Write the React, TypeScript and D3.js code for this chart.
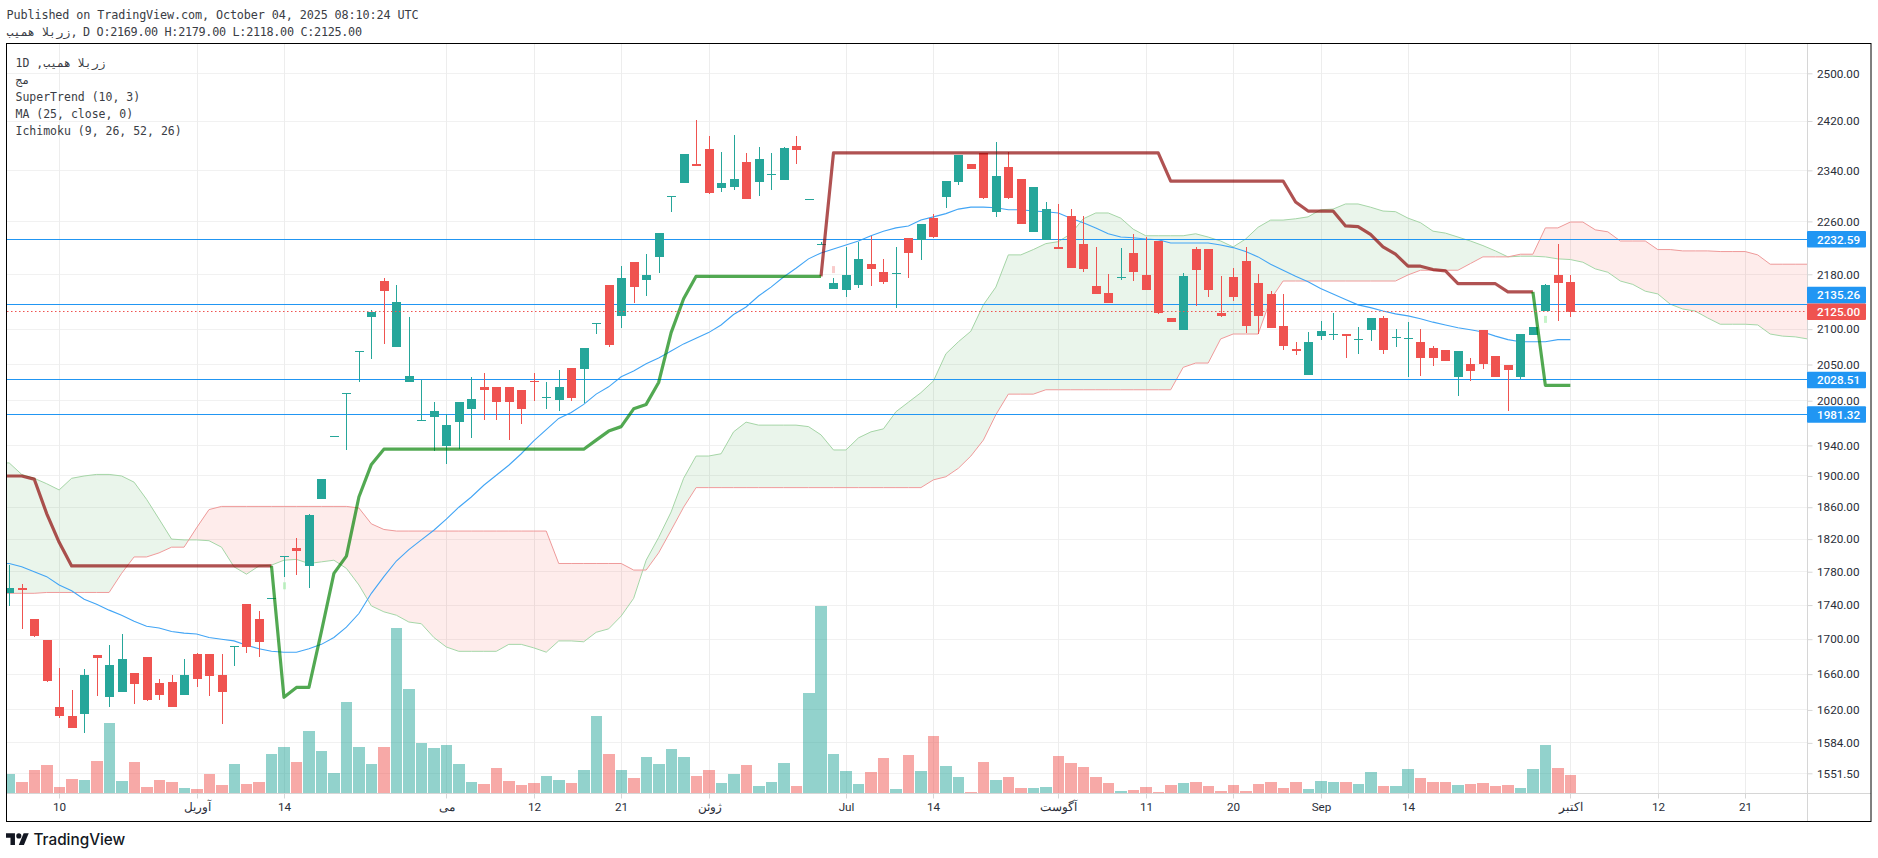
import * as d3 from "d3";
import { useEffect, useRef } from "react";

const opens = [1754,1760,1723,1699,1623,1613,1616,1682,1634,1640,1661,1679,1650,1651,1637,1683,1683,1659,1692,1741,1723,1748,1799,1809,1787,1870,1952,2010,2069,2117,2170,2075,2026,1974,1978,1939,1971,1989,2019,2019,2019,2015,2027,2005,2001,2045,2044,2109,2164,2119,2198,2172,2206,2300,2320,2350,2374,2312,2314,2353,2322,2334,2325,2379,2294,2226,2158,2157,2164,2195,2183,2182,2234,2232,2265,2298,2322,2350,2368,2274,2345,2326,2243,2232,2221,2269,2226,2163,2153,2176,2212,2179,2230,2116,2099,2218,2218,2123,2176,2200,2167,2151,2104,2072,2035,2090,2093,2093,2086,2099,2116,2089,2087,2081,2073,2070,2033,2051,2099,2062,2049,2033,2092,2126,2179,2169];
const highs = [1788,1765,1723,1699,1667,1642,1666,1682,1693,1706,1661,1679,1654,1659,1677,1684,1683,1683,1692,1741,1733,1748,1799,1821,1852,1896,1952,2010,2069,2127,2174,2164,2117,2028,1998,1982,1998,2032,2038,2019,2019,2015,2038,2025,2042,2045,2073,2109,2164,2193,2198,2211,2242,2300,2366,2422,2395,2370,2397,2368,2378,2368,2378,2395,2294,2228,2174,2221,2228,2238,2203,2221,2234,2256,2271,2323,2364,2350,2368,2386,2370,2326,2314,2290,2287,2279,2269,2221,2180,2219,2240,2236,2230,2116,2182,2221,2218,2177,2190,2221,2180,2155,2151,2081,2096,2112,2123,2093,2103,2116,2119,2100,2110,2100,2076,2070,2069,2059,2099,2062,2049,2093,2103,2166,2226,2179];
const lows = [1739,1712,1703,1651,1611,1600,1595,1635,1623,1640,1626,1630,1631,1623,1637,1645,1635,1605,1669,1684,1679,1748,1774,1776,1760,1870,1952,1934,2026,2057,2079,2075,2026,1974,1932,1915,1935,1950,1974,1974,1947,1969,2000,1989,1986,2000,1997,2093,2075,2102,2138,2148,2182,2275,2320,2347,2302,2306,2309,2295,2300,2309,2325,2350,2294,2226,2158,2147,2160,2163,2166,2130,2174,2202,2234,2281,2317,2342,2295,2267,2295,2256,2243,2232,2218,2190,2183,2151,2138,2172,2170,2157,2122,2110,2099,2133,2147,2117,2140,2095,2093,2102,2070,2063,2035,2085,2085,2059,2065,2083,2065,2075,2033,2034,2048,2055,2006,2027,2044,2033,1986,2030,2092,2126,2112,2118];
const closes = [1760,1758,1704,1652,1613,1600,1659,1678,1670,1677,1649,1631,1636,1623,1659,1655,1658,1640,1692,1691,1697,1748,1799,1805,1850,1896,1952,2010,2069,2124,2155,2139,2034,1974,1986,1967,1998,2002,2015,1998,1998,1989,2026,2005,2019,2004,2073,2109,2078,2174,2161,2179,2242,2300,2366,2347,2304,2320,2326,2295,2358,2334,2376,2373,2294,2226,2167,2179,2203,2188,2169,2182,2212,2256,2236,2323,2364,2342,2296,2331,2296,2256,2314,2279,2218,2190,2188,2151,2138,2176,2183,2157,2123,2110,2177,2186,2157,2119,2147,2104,2119,2102,2076,2069,2081,2097,2093,2090,2086,2116,2070,2089,2087,2059,2059,2055,2069,2041,2051,2033,2042,2093,2103,2164,2167,2125];
const volumes = [19,11,23,28,6,14,13,32,70,12,31,6,13,11,5,4,19,8,29,9,11,39,46,31,62,42,20,91,46,29,46,165,104,50,45,48,29,11,9,25,12,8,10,17,13,10,23,77,39,23,15,36,29,44,36,17,23,10,19,28,7,11,30,7,100,187,39,22,9,21,35,4,38,22,57,27,16,1,31,13,16,5,5,6,37,30,26,16,10,2,3,6,1,8,10,11,7,2,8,2,9,11,5,11,4,12,11,11,9,21,7,7,24,15,11,11,8,9,10,7,8,5,24,48,25,18];

const ma25 = [1790,1786,1780,1774,1764,1757,1747,1741,1734,1728,1721,1715,1713,1709,1707,1706,1702,1700,1698,1693,1689,1686,1685,1685,1689,1694,1702,1714,1730,1754,1774,1793,1807,1819,1831,1845,1860,1873,1888,1901,1914,1929,1946,1961,1976,1984,1995,2009,2019,2033,2041,2051,2059,2069,2079,2087,2095,2106,2121,2132,2148,2161,2176,2189,2203,2212,2218,2224,2230,2238,2245,2250,2253,2262,2267,2272,2279,2282,2282,2281,2278,2278,2276,2275,2273,2265,2258,2250,2241,2236,2235,2233,2232,2227,2227,2227,2227,2224,2220,2214,2206,2195,2186,2177,2169,2159,2151,2143,2135,2131,2126,2122,2119,2115,2110,2106,2102,2099,2096,2090,2085,2082,2082,2082,2085,2085];

const spanA = [1917,1902,1897,1890,1882,1897,1900,1902,1902,1900,1892,1870,1845,1820,1819,1819,1818,1810,1786,1777,1787,1788,1794,1795,1790,1792,1794,1784,1764,1739,1732,1728,1720,1718,1702,1691,1686,1686,1686,1686,1694,1694,1690,1685,1698,1698,1697,1708,1712,1727,1748,1794,1822,1854,1897,1926,1926,1929,1958,1971,1967,1967,1967,1967,1965,1954,1934,1934,1950,1958,1962,1985,1998,2011,2027,2065,2082,2097,2135,2161,2209,2209,2217,2226,2229,2241,2264,2273,2273,2265,2248,2238,2238,2238,2238,2241,2236,2230,2221,2233,2251,2262,2262,2264,2267,2278,2279,2287,2287,2282,2276,2275,2265,2258,2245,2242,2236,2230,2223,2215,2206,2207,2207,2206,2203,2202,2198,2188,2183,2170,2165,2155,2151,2136,2129,2126,2116,2107,2107,2107,2106,2093,2090,2089,2086];
const spanB = [1754,1754,1754,1755,1755,1755,1755,1755,1755,1778,1798,1798,1803,1810,1810,1834,1857,1861,1861,1861,1861,1861,1861,1861,1861,1861,1861,1861,1859,1839,1832,1830,1830,1830,1830,1830,1830,1830,1830,1830,1830,1830,1830,1830,1790,1790,1790,1790,1790,1790,1782,1782,1803,1831,1860,1885,1885,1885,1885,1885,1885,1885,1885,1885,1885,1885,1885,1885,1885,1885,1885,1885,1885,1885,1895,1899,1910,1926,1947,1981,2009,2009,2009,2015,2015,2015,2015,2015,2015,2015,2015,2015,2015,2015,2046,2052,2052,2086,2093,2093,2093,2143,2170,2170,2170,2170,2170,2170,2170,2170,2170,2170,2179,2186,2186,2186,2186,2196,2206,2206,2206,2210,2210,2250,2250,2259,2259,2247,2244,2230,2230,2230,2217,2217,2215,2215,2215,2214,2214,2214,2209,2195,2195,2195,2195];

// supertrend, one list per direction, they meet on the flip bars
const trendDown = [1900,1900,1896,1852,1816,1787,1787,1787,1787,1787,1787,1787,1787,1787,1787,1787,1787,1787,1787,1787,1787,1787,null,null,null,null,null,null,null,null,null,null,null,null,null,null,null,null,null,null,null,null,null,null,null,null,null,null,null,null,null,null,null,null,null,null,null,null,null,null,null,null,null,null,null,2177,2368,2368,2368,2368,2368,2368,2368,2368,2368,2368,2368,2368,2368,2368,2368,2368,2368,2368,2368,2368,2368,2368,2368,2368,2368,2368,2368,2323,2323,2323,2323,2323,2323,2323,2323,2323,2323,2290,2276,2276,2276,2253,2252,2240,2221,2210,2192,2192,2187,2185,2166,2166,2166,2166,2154,2154,2154,null,null,null];
const trendUp = [null,null,null,null,null,null,null,null,null,null,null,null,null,null,null,null,null,null,null,null,null,1787,1634,1645,1645,1709,1778,1799,1873,1915,1935,1935,1935,1935,1935,1935,1935,1935,1935,1935,1935,1935,1935,1935,1935,1935,1935,1947,1959,1965,1989,1995,2025,2095,2144,2177,2177,2177,2177,2177,2177,2177,2177,2177,2177,2177,null,null,null,null,null,null,null,null,null,null,null,null,null,null,null,null,null,null,null,null,null,null,null,null,null,null,null,null,null,null,null,null,null,null,null,null,null,null,null,null,null,null,null,null,null,null,null,null,null,null,null,null,null,null,null,null,2154,2021,2021,2021];

const signalBars = [22, 66, 123];
const signalPrices = [1763, 2187, 2114];
const signalColors = ["#7ee787", "#f28b8b", "#7ee787"];

const priceTicks = [2500,2420,2340,2260,2180,2100,2050,2000,1940,1900,1860,1820,1780,1740,1700,1660,1620,1584,1551.5];
const timeTicks = [4,15,22,35,42,49,56,67,74,84,91,98,105,112,125,132,139];
const timeLabels = ["10","آوریل","14","می","12","21","ژوئن","Jul","14","آگوست","11","20","Sep","14","اکتبر","12","21"];
const levels = [2232.59, 2135.26, 2028.51, 1981.32];
const lastClose = 2125;

const legendLines = ["1D ,زربلا همیب", "مج", "SuperTrend (10, 3)", "MA (25, close, 0)", "Ichimoku (9, 26, 52, 26)"];

const GREEN = "#26a69a";
const RED = "#ef5350";
const BLUE = "#2196f3";
const MONO = "'DejaVu Sans Mono', monospace";
const AXIS_FONT = "Roboto, sans-serif";

export default function App() {
  const svgRef = useRef<SVGSVGElement>(null);

  useEffect(() => {
    if (!svgRef.current) return;
    const svg = d3.select(svgRef.current);
    svg.selectAll("*").remove();

    const left = 7;
    const right = 1807;
    const top = 44;
    const bottom = 793;

    const x = d3.scaleLinear().domain([0, 139]).range([9.2, 1745.2]);
    const y = d3.scaleLog().domain([1551.5, 2500]).range([773.3, 73.3]);
    const vol = d3.scaleLinear().domain([0, 187]).range([793, 606]);
    // bars sit on whole pixels like the original canvas
    const cx = (i: number) => Math.round(x(i) - 4) + 4;
    // the lines run on past the first bar to the pane edge
    const lead = (s: (number | null)[]) => [s[0], ...s];

    const defs = svg.append("defs");
    defs.append("clipPath").attr("id", "pane").append("rect")
      .attr("x", left).attr("y", top).attr("width", right - left).attr("height", bottom - top);

    const idx = d3.range(-1, spanA.length);
    const at = (s: number[], i: number) => s[Math.max(i, 0)];
    const above = (s: number[]) => d3.area<number>().x((i) => x(i)).y0((i) => y(at(s, i))).y1(0);
    defs.append("clipPath").attr("id", "aboveB").append("path").attr("d", above(spanB)(idx));
    defs.append("clipPath").attr("id", "aboveA").append("path").attr("d", above(spanA)(idx));

    // titles above the pane
    svg.append("text").attr("x", 6.5).attr("y", 18.5)
      .attr("font-family", MONO).attr("font-size", 11.8).attr("fill", "#3a3d45")
      .attr("textLength", 412)
      .text("Published on TradingView.com, October 04, 2025 08:10:24 UTC");
    svg.append("text").attr("x", 6.5).attr("y", 35.5)
      .attr("font-family", MONO).attr("font-size", 11.8).attr("fill", "#3a3d45")
      .text("زربلا همیب,");
    svg.append("text").attr("x", 83).attr("y", 35.5)
      .attr("font-family", MONO).attr("font-size", 11.8).attr("fill", "#3a3d45")
      .attr("textLength", 279)
      .text("D O:2169.00 H:2179.00 L:2118.00 C:2125.00");

    // grid
    const grid = svg.append("g");
    grid.selectAll(".h").data(priceTicks).join("line")
      .attr("x1", left).attr("x2", right)
      .attr("y1", (d) => Math.floor(y(d)) + 0.5).attr("y2", (d) => Math.floor(y(d)) + 0.5)
      .attr("stroke", "#f1f1f1");
    grid.selectAll(".v").data(timeTicks).join("line")
      .attr("x1", (d) => cx(d) + 0.5).attr("x2", (d) => cx(d) + 0.5)
      .attr("y1", top).attr("y2", bottom)
      .attr("stroke", "#ededed");

    const pane = svg.append("g").attr("clip-path", "url(#pane)");

    // volume
    pane.append("g").selectAll("rect").data(volumes).join("rect")
      .attr("x", (_, i) => Math.round(x(i) - 5.5))
      .attr("width", (_, i) => Math.round(x(i) + 6) - Math.round(x(i) - 5.5))
      .attr("y", (d) => vol(d))
      .attr("height", (d) => bottom - vol(d))
      .attr("fill", (_, i) => (closes[i] >= opens[i] ? GREEN : RED))
      .attr("fill-opacity", 0.5);

    // cloud
    const cloud = d3.area<number>().x((i) => x(i)).y0((i) => y(at(spanA, i))).y1((i) => y(at(spanB, i)));
    const cloudPath = cloud(idx);
    pane.append("g").attr("clip-path", "url(#aboveB)").append("path")
      .attr("d", cloudPath).attr("fill", "rgba(67,160,71,0.11)");
    pane.append("g").attr("clip-path", "url(#aboveA)").append("path")
      .attr("d", cloudPath).attr("fill", "rgba(244,67,54,0.1)");
    const seriesLine = d3.line<number | null>()
      .defined((d) => d !== null)
      .x((_, i) => x(i - 1))
      .y((d) => y(d as number));
    pane.append("path").attr("d", seriesLine(lead(spanA))).attr("fill", "none").attr("stroke", "#a5d6a7");
    pane.append("path").attr("d", seriesLine(lead(spanB))).attr("fill", "none").attr("stroke", "#ef9a9a");

    // moving average
    pane.append("path").attr("d", seriesLine(lead(ma25))).attr("fill", "none")
      .attr("stroke", "#42a5f5").attr("stroke-width", 1.1);

    // horizontal levels
    pane.selectAll(".level").data(levels).join("line")
      .attr("x1", left).attr("x2", right)
      .attr("y1", (d) => Math.floor(y(d)) + 0.5).attr("y2", (d) => Math.floor(y(d)) + 0.5)
      .attr("stroke", BLUE);

    // candles
    const candles = pane.append("g");
    opens.forEach((o, i) => {
      const c = closes[i];
      const color = c >= o ? GREEN : RED;
      const bodyTop = Math.round(y(Math.max(o, c)));
      const bodyBottom = Math.max(bodyTop + 1, Math.round(y(Math.min(o, c))));
      const wickTop = Math.round(y(highs[i]));
      const wickBottom = Math.max(wickTop + 1, Math.round(y(lows[i])));
      candles.append("rect").attr("x", cx(i)).attr("width", 1)
        .attr("y", wickTop).attr("height", wickBottom - wickTop).attr("fill", color);
      candles.append("rect").attr("x", cx(i) - 4).attr("width", 9)
        .attr("y", bodyTop).attr("height", bodyBottom - bodyTop).attr("fill", color);
    });

    // supertrend
    pane.append("path").attr("d", seriesLine(lead(trendDown))).attr("fill", "none")
      .attr("stroke", "#8b0000").attr("stroke-opacity", 0.68).attr("stroke-width", 3.2).attr("stroke-linejoin", "round");
    pane.append("path").attr("d", seriesLine(lead(trendUp))).attr("fill", "none")
      .attr("stroke", "#008000").attr("stroke-opacity", 0.68).attr("stroke-width", 3.2).attr("stroke-linejoin", "round");

    // flip markers
    signalBars.forEach((b, i) => {
      pane.append("rect").attr("x", cx(b) - 1).attr("width", 3)
        .attr("y", y(signalPrices[i]) - 3.5).attr("height", 7)
        .attr("fill", signalColors[i]).attr("fill-opacity", 0.45);
    });

    // last price
    pane.append("line").attr("x1", left).attr("x2", right)
      .attr("y1", Math.floor(y(lastClose)) + 0.5).attr("y2", Math.floor(y(lastClose)) + 0.5)
      .attr("stroke", RED).attr("stroke-dasharray", "1.5 2.5");

    // axes
    const priceAxis = svg.append("g").attr("transform", `translate(${right + 0.5},0)`)
      .call(d3.axisRight(y).tickValues(priceTicks).tickFormat((d) => (d as number).toFixed(2)).tickSize(5).tickPadding(4.5));
    priceAxis.select(".domain").remove();
    priceAxis.selectAll("line").attr("stroke", "#d6d6d6");
    priceAxis.selectAll("text").attr("font-family", AXIS_FONT).attr("font-size", 11.7).attr("fill", "#2a2e39");

    const timeAxis = svg.append("g").attr("transform", `translate(0,${bottom + 0.5})`)
      .call(d3.axisBottom(x).tickValues(timeTicks).tickFormat((_, i) => timeLabels[i]).tickSize(5).tickPadding(4.5));
    timeAxis.select(".domain").remove();
    timeAxis.selectAll<SVGGElement, number>(".tick").attr("transform", (d) => `translate(${cx(d) + 0.5},0)`);
    timeAxis.selectAll("line").attr("stroke", "#d6d6d6");
    timeAxis.selectAll("text").attr("font-family", AXIS_FONT).attr("font-size", 11.7).attr("fill", "#2a2e39");

    svg.append("line").attr("x1", left).attr("x2", 1871).attr("y1", bottom + 0.5).attr("y2", bottom + 0.5).attr("stroke", "#d6d6d6");
    svg.append("line").attr("x1", right + 0.5).attr("x2", right + 0.5).attr("y1", top).attr("y2", 822).attr("stroke", "#d6d6d6");

    // price labels, pushed up when they would hit the last price tag
    const labelH = 16.6;
    const tags = levels.map((p) => {
      let center = y(p);
      const lastY = y(lastClose);
      if (Math.abs(center - lastY) < labelH) center = lastY - labelH;
      return { p, center, color: BLUE };
    });
    tags.push({ p: lastClose, center: y(lastClose), color: RED });
    const tagG = svg.append("g").selectAll("g").data(tags).join("g")
      .attr("transform", (d) => `translate(${right},${d.center})`);
    tagG.append("rect").attr("x", 0).attr("y", -labelH / 2).attr("width", 59).attr("height", labelH)
      .attr("rx", 1).attr("fill", (d) => d.color);
    tagG.append("text").attr("x", 10).attr("dy", "0.36em")
      .attr("font-family", AXIS_FONT).attr("font-size", 11.7).attr("font-weight", 500).attr("fill", "#fff")
      .text((d) => d.p.toFixed(2));

    // legend
    svg.append("g").selectAll("text").data(legendLines).join("text")
      .attr("x", 15.5).attr("y", (_, i) => 66.5 + i * 17)
      .attr("font-family", MONO).attr("font-size", 11.5).attr("fill", "#3a3d45")
      .text((d) => d);

    // pane border
    svg.append("rect").attr("x", 6.5).attr("y", 43.5).attr("width", 1864.5).attr("height", 778)
      .attr("fill", "none").attr("stroke", "#000");

    // logo
    const logo = svg.append("g").attr("transform", "translate(6,830.8) scale(0.64)").attr("fill", "#131722");
    logo.append("path").attr("d", "M14 22H7V11H0V4h14v18z");
    logo.append("path").attr("d", "M28 22h-8l7.5-18h8L28 22z");
    logo.append("circle").attr("cx", 20).attr("cy", 8).attr("r", 4);
    svg.append("text").attr("x", 33.5).attr("y", 845.3)
      .attr("font-family", "Inter, sans-serif").attr("font-size", 15.3).attr("font-weight", 500).attr("fill", "#131722")
      .text("TradingView");
  }, []);

  return (
    <svg
      ref={svgRef}
      width={1878}
      height={858}
      viewBox="0 0 1878 858"
      style={{ position: "absolute", left: 0, top: 0, background: "#fff" }}
    />
  );
}
